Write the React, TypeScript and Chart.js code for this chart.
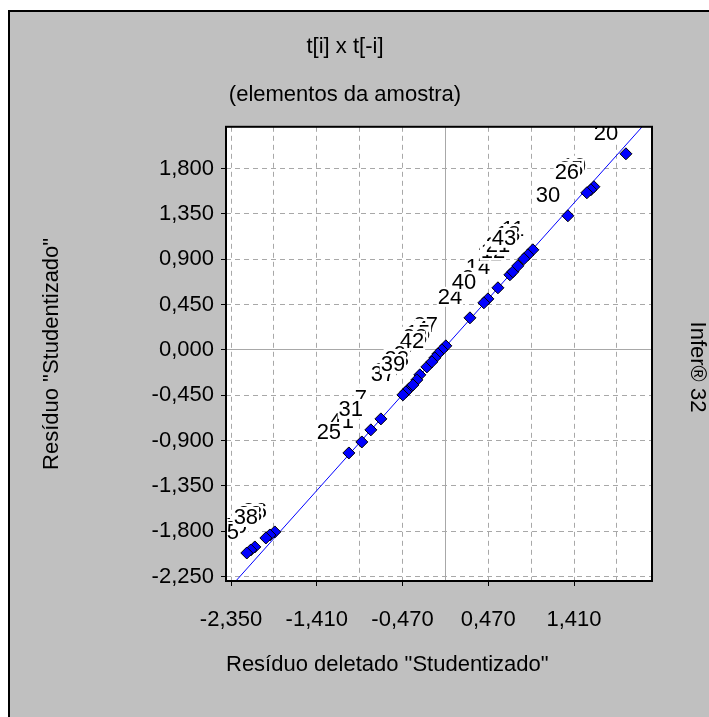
import React, { useEffect, useRef } from 'react';
import { Chart, registerables } from 'chart.js';

Chart.register(...registerables);

// ---- data ----
const xValues = [
  1.628, 1.595, 1.551, 1.979, 1.343,
  0.576, 0.269, 0.466, 0.422, 0.707, 0.740, 0.795, 0.959, 0.905, 0.861,
  0.005, -0.038, -0.082, -0.115, -0.203, -0.148,
  -0.280, -0.313, -0.400, -0.433, -0.466, -0.356,
  -0.707, -0.916, -0.817, -1.058,
  -2.089, -2.133, -2.177, -1.870, -1.924, -1.968,
];
const yValues = [
  1.619, 1.589, 1.559, 1.946, 1.331,
  0.616, 0.318, 0.506, 0.467, 0.745, 0.775, 0.834, 0.993, 0.943, 0.904,
  0.040, 0.000, -0.040, -0.079, -0.169, -0.119,
  -0.248, -0.298, -0.387, -0.417, -0.447, -0.348,
  -0.685, -0.914, -0.794, -1.023,
  -1.956, -1.986, -2.016, -1.807, -1.837, -1.867,
];
const pointLabels = [
  '19', '35', '26', '20', '30',
  '14', '24', '2', '40', '22', '12', '21', '11', '18', '43',
  '27', '4', '15', '28', '6', '42',
  '9', '33', '13', '29', '37', '39',
  '7', '41', '31', '25',
  '10', '8', '15', '36', '23', '38',
];

const lineX = [-2.297, 2.157];
const lineY = [-2.294, 2.214];

const xTicks = [-2.35, -1.88, -1.41, -0.94, -0.47, 0, 0.47, 0.94, 1.41, 1.88];
const xTickLabels = ['-2,350', '', '-1,410', '', '-0,470', '', '0,470', '', '1,410', ''];
const yTicks = [-2.25, -1.8, -1.35, -0.9, -0.45, 0, 0.45, 0.9, 1.35, 1.8];
const yTickLabels = ['-2,250', '-1,800', '-1,350', '-0,900', '-0,450', '0,000', '0,450', '0,900', '1,350', '1,800'];

const xRange = [-2.405, 2.265];
const yRange = [-2.294, 2.214];

const FONT = '"Liberation Sans", Arial, sans-serif';
const GRID = '#a8a8a8';

const panelPlugin = {
  id: 'panel',
  beforeDraw(chart: any) {
    const { ctx, chartArea, width, height } = chart;
    ctx.save();
    ctx.fillStyle = '#c0c0c0';
    ctx.fillRect(0, 0, width, height);
    ctx.fillStyle = '#000';
    ctx.fillRect(0, 0, width, 2);
    ctx.fillRect(0, 0, 2, height);
    ctx.fillStyle = '#ffffff';
    ctx.fillRect(chartArea.left, chartArea.top, chartArea.right - chartArea.left, chartArea.bottom - chartArea.top);
    ctx.restore();
  },
  beforeDatasetsDraw(chart: any) {
    const { ctx, chartArea } = chart;
    const meta = chart.getDatasetMeta(0);
    ctx.save();
    ctx.beginPath();
    ctx.rect(chartArea.left, chartArea.top, chartArea.right - chartArea.left, chartArea.bottom - chartArea.top);
    ctx.clip();
    ctx.font = '22px ' + FONT;
    ctx.textAlign = 'center';
    ctx.textBaseline = 'middle';
    meta.data.forEach((el: any, i: number) => {
      const t = pointLabels[i];
      const cx = el.x - 20;
      const cy = el.y - 21;
      const w = ctx.measureText(t).width;
      ctx.fillStyle = '#ffffff';
      ctx.fillRect(cx - w / 2 - 1, cy - 10, w + 2, 20);
      ctx.fillStyle = '#000';
      ctx.fillText(t, cx, cy + 1);
    });
    ctx.restore();
  },
  afterDraw(chart: any) {
    const { ctx, chartArea } = chart;
    ctx.save();
    ctx.strokeStyle = '#000';
    ctx.lineWidth = 2;
    ctx.strokeRect(chartArea.left, chartArea.top, chartArea.right - chartArea.left, chartArea.bottom - chartArea.top);
    ctx.font = '22px ' + FONT;
    ctx.fillStyle = '#000';
    ctx.textAlign = 'center';
    ctx.textBaseline = 'middle';
    ctx.translate(689, 357);
    ctx.rotate(Math.PI / 2);
    ctx.fillText('Infer® 32', 0, 0);
    ctx.restore();
  },
};

export default function App() {
  const ref = useRef<HTMLCanvasElement>(null);
  useEffect(() => {
    document.body.style.overflow = 'hidden';
    const canvas = ref.current;
    if (!canvas) return;
    Chart.defaults.font.family = FONT;
    Chart.defaults.font.size = 22;
    Chart.defaults.color = '#000';
    const chart = new Chart(canvas, {
      type: 'scatter',
      data: {
        datasets: [
          {
            type: 'scatter',
            data: xValues.map((x, i) => ({ x, y: yValues[i] })),
            pointStyle: 'rectRot',
            pointRadius: 6,
            pointHoverRadius: 6,
            backgroundColor: '#0000ff',
            borderColor: '#000000',
            borderWidth: 1,
          },
          {
            type: 'line',
            data: lineX.map((x, i) => ({ x, y: lineY[i] })),
            borderColor: '#0000ff',
            borderWidth: 1,
            pointRadius: 0,
            fill: false,
          } as any,
        ],
      },
      options: {
        animation: false,
        responsive: false,
        events: [],
        layout: { padding: { left: 0, right: 27, top: 0, bottom: 0 } },
        plugins: {
          legend: { display: false },
          tooltip: { enabled: false },
          title: {
            display: true,
            text: 't[i] x t[-i]',
            font: { size: 22, weight: 'normal' },
            color: '#000',
            padding: { top: 24, bottom: 10 },
          },
          subtitle: {
            display: true,
            text: '(elementos da amostra)',
            font: { size: 22, weight: 'normal' },
            color: '#000',
            padding: { top: 11, bottom: 19 },
          },
        },
        scales: {
          x: {
            type: 'linear',
            min: xRange[0],
            max: xRange[1],
            afterBuildTicks: (scale: any) => {
              scale.ticks = xTicks.map((v) => ({ value: v }));
            },
            afterFit: (scale: any) => {
              scale.height = 136;
            },
            ticks: {
              autoSkip: false,
              maxRotation: 0,
              padding: 21,
              callback: (_v: any, i: number) => xTickLabels[i],
              font: { size: 22 },
              color: '#000',
            },
            grid: {
              color: GRID,
              tickLength: 5,
              tickColor: (c: any) => (xTickLabels[c.index] ? '#000' : 'rgba(0,0,0,0)'),
            },
            border: {
              display: false,
              dash: (c: any) => (c.tick && c.tick.value === 0 ? [] : [5, 4]),
            },
            title: {
              display: true,
              align: 'start',
              text: 'Resíduo deletado "Studentizado"',
              font: { size: 22 },
              color: '#000',
              padding: { top: 0, bottom: 38.8 },
            },
          },
          y: {
            type: 'linear',
            min: yRange[0],
            max: yRange[1],
            afterBuildTicks: (scale: any) => {
              scale.ticks = yTicks.map((v) => ({ value: v }));
            },
            afterFit: (scale: any) => {
              scale.width = 218;
            },
            ticks: {
              autoSkip: false,
              padding: 7,
              callback: (_v: any, i: number) => yTickLabels[i],
              font: { size: 22 },
              color: '#000',
            },
            grid: {
              color: GRID,
              tickLength: 5,
              tickColor: '#000',
            },
            border: {
              display: false,
              dash: (c: any) => (c.tick && c.tick.value === 0 ? [] : [5, 4]),
            },
            title: {
              display: true,
              text: 'Resíduo "Studentizado"',
              font: { size: 22 },
              color: '#000',
              padding: { top: 30.8, bottom: 0 },
            },
          },
          yRight: {
            type: 'linear',
            position: 'right',
            min: yRange[0],
            max: yRange[1],
            afterFit: (scale: any) => {
              scale.width = 30;
            },
            ticks: { display: false },
            grid: { display: false, drawTicks: false },
            border: { display: false },
            title: { display: false },
          },
        },
      },
      plugins: [panelPlugin],
    } as any);
    return () => chart.destroy();
  }, []);
  return (
    <div style={{ position: 'absolute', left: 8, top: 10, width: 701, height: 707 }}>
      <canvas ref={ref} width={701} height={707} style={{ display: 'block' }} />
    </div>
  );
}
